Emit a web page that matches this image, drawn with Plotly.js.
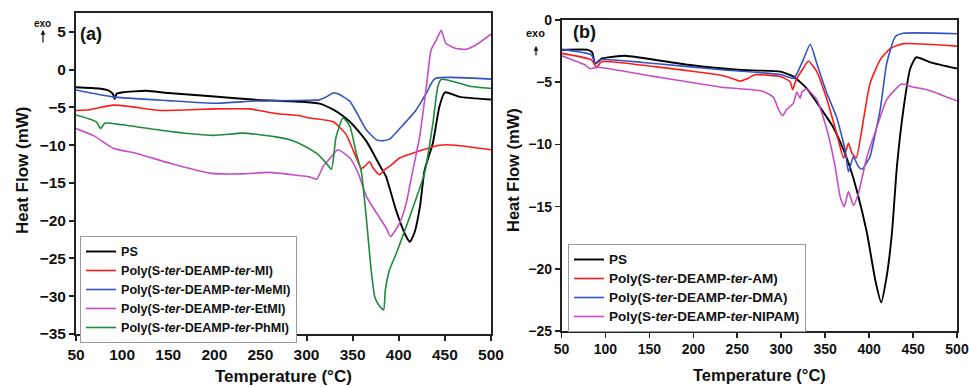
<!DOCTYPE html>
<html>
<head>
<meta charset="utf-8">
<script src="https://cdn.plot.ly/plotly-3.0.1.min.js"></script>
<style>html,body{margin:0;padding:0;background:#fff}#chart{width:969px;height:387px}</style>
</head>
<body>
<div id="chart"></div>
<script>
// ---------- Panel (a) ----------
const aPS_T  = [50, 75, 85, 90, 92, 94, 101, 126, 150, 200, 246, 293, 314, 329, 338, 347, 356, 365, 372, 379, 386, 397, 408, 412, 417, 423, 428, 437, 444, 450, 466, 500];
const aPS_HF = [-2.33, -2.5, -2.75, -3.2, -3.9, -3.2, -3.0, -2.8, -3.1, -3.55, -4.0, -4.25, -4.5, -5.3, -6.0, -6.9, -8.1, -9.5, -11.0, -12.6, -14.1, -18.6, -22.1, -22.8, -21.6, -18.1, -13.3, -9.7, -4.9, -3.0, -3.6, -3.95];

const aMI_T  = [50, 65, 90, 110, 141, 200, 238, 267, 293, 303, 329, 343, 354, 359.5, 363, 368.4, 372, 379, 384, 390, 401, 419, 444, 462, 500];
const aMI_HF = [-5.4, -5.3, -4.7, -4.9, -5.4, -5.2, -5.2, -5.8, -6.1, -6.4, -6.9, -8.6, -11.7, -13.1, -12.8, -12.2, -13.0, -13.9, -13.3, -12.8, -11.7, -10.9, -10.0, -10.0, -10.6];

const aMeMI_T  = [50, 90, 150, 202, 246, 300, 314, 320, 329, 334, 347, 365, 376, 383, 390, 401, 419, 430, 439, 500];
const aMeMI_HF = [-2.7, -3.6, -4.1, -4.45, -4.15, -4.05, -4.0, -3.7, -3.1, -3.2, -4.2, -8.0, -9.3, -9.4, -9.2, -7.8, -5.3, -3.1, -1.2, -1.25];

const aEtMI_T  = [50, 70, 90, 116, 152, 195, 230, 260, 290, 303, 311, 318, 325, 334, 347, 356, 365, 376, 386.5, 391, 401, 408, 415, 422.6, 430, 435, 440.6, 446, 451, 462, 473, 484, 500];
const aEtMI_HF = [-7.8, -8.8, -10.4, -11.1, -12.4, -13.7, -13.8, -13.6, -14.0, -14.2, -14.5, -12.8, -11.8, -10.6, -11.7, -13.7, -16.8, -19.0, -21.0, -22.1, -20.3, -17.7, -13.5, -8.9, -2.2, 2.6, 3.9, 5.2, 3.5, 2.8, 2.7, 3.3, 4.7];

const aPhMI_T  = [50, 72, 76.7, 81, 100, 152, 199, 231, 267, 285, 296, 311, 321.5, 327, 332, 339.5, 347, 354, 359.5, 365, 370, 374, 379, 383.6, 385.4, 390, 397.4, 408, 417, 428, 437, 442.4, 446, 466, 477, 500];
const aPhMI_HF = [-6.0, -6.9, -7.8, -7.1, -7.3, -8.2, -8.7, -8.4, -8.9, -9.4, -10.0, -11.1, -12.4, -13.2, -8.9, -6.4, -7.5, -11.1, -13.6, -19.9, -26.5, -30.1, -31.3, -31.8, -29.2, -26.5, -24.3, -20.8, -17.7, -13.7, -7.1, -2.2, -1.3, -1.8, -2.2, -2.5];

// ---------- Panel (b) ----------
const bPS_T  = [50, 80, 85, 88, 91, 95.6, 103, 122, 194, 250, 299, 314, 329, 344, 359, 371, 378, 386, 397.5, 407, 413.7, 420, 426, 431.6, 439, 446.8, 453.6, 469.6, 500];
const bPS_HF = [-2.41, -2.4, -2.6, -3.5, -3.4, -3.1, -3.0, -2.87, -3.6, -4.0, -4.15, -4.55, -5.5, -7.0, -8.6, -10.45, -11.8, -13.7, -17.1, -20.9, -22.7, -20.6, -17.1, -11.8, -7.2, -3.9, -3.0, -3.4, -3.9];

const bAM_T  = [50, 84, 90, 95.6, 156, 228, 240, 253, 262, 270, 299, 310, 313, 317, 325, 331, 340.5, 352, 363, 371, 376.5, 380.4, 385.3, 393.6, 401, 412.6, 424, 439, 500];
const bAM_HF = [-2.68, -3.2, -3.8, -3.35, -3.75, -4.4, -4.6, -4.9, -4.7, -4.4, -4.55, -4.95, -5.6, -4.8, -3.9, -3.3, -4.15, -6.4, -9.1, -11.1, -9.9, -10.7, -11.1, -8.0, -5.1, -3.2, -2.3, -1.9, -2.1];

const bDMA_T  = [50, 84, 88.7, 93.6, 156, 232, 300, 314, 318, 325, 333, 340.5, 352, 363, 372.7, 376.5, 382, 388, 392, 399, 401, 412.6, 420, 429.7, 439, 500];
const bDMA_HF = [-2.36, -2.8, -3.5, -3.2, -3.5, -4.0, -4.4, -4.7, -4.3, -3.2, -1.95, -3.5, -5.9, -7.8, -10.45, -12.2, -11.0, -11.8, -12.0, -11.25, -11.0, -7.2, -3.5, -1.34, -1.07, -1.1];

const bNIPAM_T  = [50, 76.5, 82, 92, 156, 232, 278, 291, 297, 301.7, 306, 313.8, 317.7, 321.5, 323.4, 329, 340.5, 352, 361.4, 367, 371.6, 376.5, 382.2, 388, 397.5, 408.9, 420, 437, 450.5, 465.8, 500];
const bNIPAM_HF = [-2.87, -3.6, -3.9, -3.8, -4.55, -5.4, -5.7, -6.2, -7.2, -7.7, -7.2, -6.7, -5.8, -6.3, -5.8, -5.55, -6.4, -8.8, -11.8, -14.2, -15.0, -13.8, -14.9, -13.9, -11.0, -8.6, -6.4, -5.15, -5.4, -5.6, -6.5];

const namesA = ['PS', 'Poly(S-<i>ter</i>-DEAMP-<i>ter</i>-MI)', 'Poly(S-<i>ter</i>-DEAMP-<i>ter</i>-MeMI)', 'Poly(S-<i>ter</i>-DEAMP-<i>ter</i>-EtMI)', 'Poly(S-<i>ter</i>-DEAMP-<i>ter</i>-PhMI)'];
const namesB = ['PS', 'Poly(S-<i>ter</i>-DEAMP-<i>ter</i>-AM)', 'Poly(S-<i>ter</i>-DEAMP-<i>ter</i>-DMA)', 'Poly(S-<i>ter</i>-DEAMP-<i>ter</i>-NIPAM)'];
const xTicks = [50, 100, 150, 200, 250, 300, 350, 400, 450, 500];
const yTicksA = [5, 0, -5, -10, -15, -20, -25, -30, -35];
const yTicksB = [0, -5, -10, -15, -20, -25];

const C = {black:'#000000', red:'#ff1a1a', blue:'#3553c2', mag:'#c44fc4', green:'#1f8a3c'};
const W = 969, H = 387;
const px = v => v / W, py = v => 1 - v / H;
const FONT = 'Liberation Sans, Arial, sans-serif';

function tr(x, y, name, color, xa, ya, leg, fs, w) {
  return {x, y, name:'<span style="font-size:' + fs + 'px">' + name + '</span>', type:'scatter', mode:'lines',
          xaxis:xa, yaxis:ya, legend:leg, line:{color, width:w||1.6, shape:'spline', smoothing:0.5}};
}
const data = [
  tr(aPS_T, aPS_HF, namesA[0], C.black, 'x', 'y', 'legend', 12.6, 1.9),
  tr(aMI_T, aMI_HF, namesA[1], C.red, 'x', 'y', 'legend', 12.6),
  tr(aMeMI_T, aMeMI_HF, namesA[2], C.blue, 'x', 'y', 'legend', 12.6),
  tr(aEtMI_T, aEtMI_HF, namesA[3], C.mag, 'x', 'y', 'legend', 12.6),
  tr(aPhMI_T, aPhMI_HF, namesA[4], C.green, 'x', 'y', 'legend', 12.6),
  tr(bPS_T, bPS_HF, namesB[0], C.black, 'x2', 'y2', 'legend2', 13.5, 1.9),
  tr(bAM_T, bAM_HF, namesB[1], C.red, 'x2', 'y2', 'legend2', 13.5),
  tr(bDMA_T, bDMA_HF, namesB[2], C.blue, 'x2', 'y2', 'legend2', 13.5),
  tr(bNIPAM_T, bNIPAM_HF, namesB[3], C.mag, 'x2', 'y2', 'legend2', 13.5)
];

function xax(domain, anchor, fs, lw) {
  return {domain, anchor, range:[50, 500], tickvals:xTicks, ticks:'outside', ticklen:5, tickwidth:lw,
          tickcolor:'#222', showline:true, mirror:true, linecolor:'#222', linewidth:lw, showgrid:false,
          zeroline:false, tickfont:{family:FONT, size:fs, weight:'bold', color:'#111'}};
}
function yax(domain, anchor, range, ticks, fs, lw) {
  return {domain, anchor, range, tickvals:ticks, ticks:'outside', ticklen:5, tickwidth:lw,
          tickcolor:'#222', showline:true, mirror:true, linecolor:'#222', linewidth:lw, showgrid:false,
          zeroline:false, tickfont:{family:FONT, size:fs, weight:'bold', color:'#111'}};
}

function txt(x, y, text, size, extra) {
  return Object.assign({xref:'paper', yref:'paper', x:px(x), y:py(y), text, showarrow:false,
    xanchor:'center', yanchor:'middle', font:{family:FONT, size, weight:'bold', color:'#111'}}, extra||{});
}

const layout = {
  width:W, height:H, margin:{l:0, r:0, t:0, b:0}, paper_bgcolor:'#fff', plot_bgcolor:'#fff',
  showlegend:true,
  font:{family:FONT, color:'#111'},
  xaxis: xax([px(76), px(491)], 'y', 15.5, 2),
  yaxis: yax([1 - 334/H, 1 - 13/H], 'x', [-35, 7.5], yTicksA, 15.5, 2),
  xaxis2: xax([px(561.5), px(957)], 'y2', 14, 1.6),
  yaxis2: yax([1 - 331/H, 1 - 20/H], 'x2', [-25, 0], yTicksB, 14, 1.6),
  legend:{x:px(80), y:py(236), xanchor:'left', yanchor:'top', bgcolor:'#fff', bordercolor:'#9a9a9a',
          borderwidth:1, font:{family:FONT, size:11.15, weight:'bold', color:'#111'}, tracegroupgap:0, itemwidth:30},
  legend2:{x:px(568), y:py(244), xanchor:'left', yanchor:'top', bgcolor:'#fff', bordercolor:'#9a9a9a',
          borderwidth:1, font:{family:FONT, size:12.1, weight:'bold', color:'#111'}, tracegroupgap:0, itemwidth:30},
  annotations:[
    txt(91, 34, '(a)', 18),
    txt(584, 32, '(b)', 18),
    txt(283, 376, 'Temperature (°C)', 17),
    txt(759, 375, 'Temperature (°C)', 16.5),
    txt(22, 170, 'Heat Flow (mW)', 17, {textangle:-90}),
    txt(513, 170, 'Heat Flow (mW)', 16.5, {textangle:-90}),
    txt(42, 23, 'exo', 10),
    txt(535, 33, 'exo', 11),
    {xref:'paper', yref:'paper', x:px(43), y:py(30), ax:0, ay:14, text:'', showarrow:true,
     arrowhead:2, arrowsize:0.8, arrowwidth:1.2, arrowcolor:'#111'},
    {xref:'paper', yref:'paper', x:px(536), y:py(46), ax:0, ay:11, text:'', showarrow:true,
     arrowhead:2, arrowsize:0.8, arrowwidth:1.2, arrowcolor:'#111'}
  ]
};

Plotly.newPlot('chart', data, layout, {staticPlot:true, displayModeBar:false});
</script>
</body>
</html>
